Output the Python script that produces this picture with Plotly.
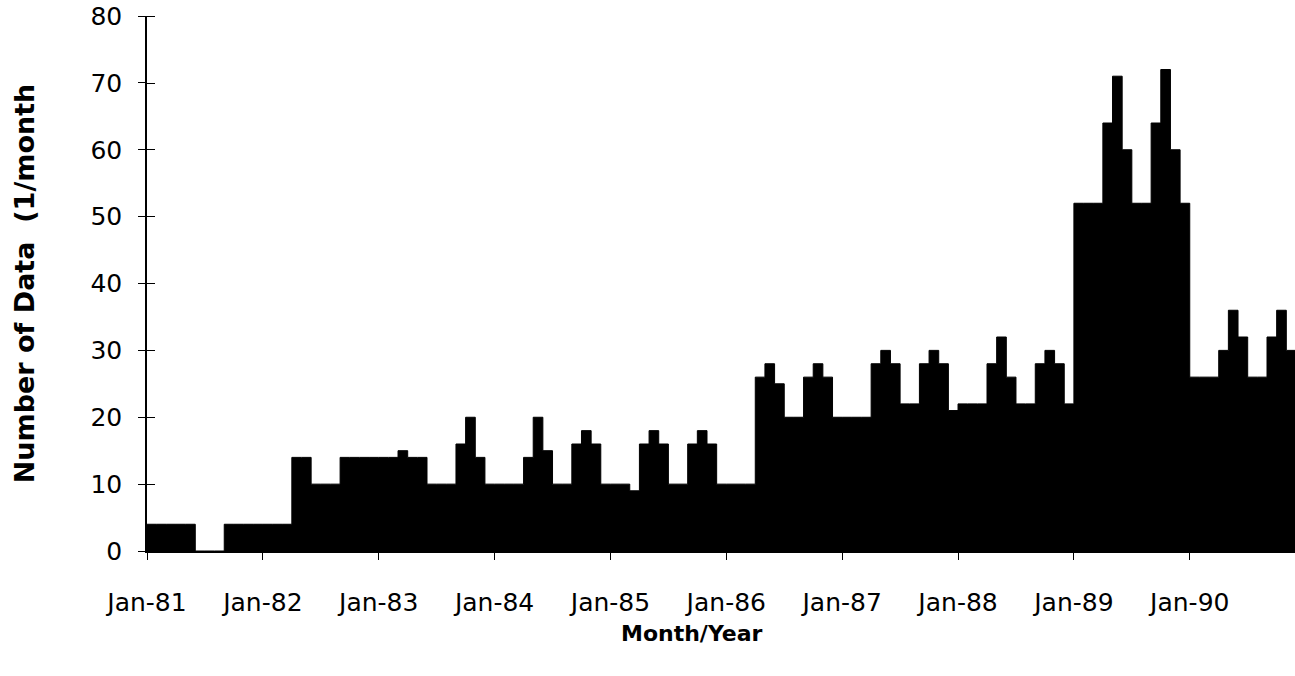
import plotly.graph_objects as go

# Monthly number of data, Jan-81 ... Nov-90
counts_1981 = [4, 4, 4, 4, 4, 0, 0, 0, 4, 4, 4, 4]
counts_1982 = [4, 4, 4, 14, 14, 10, 10, 10, 14, 14, 14, 14]
counts_1983 = [14, 14, 15, 14, 14, 10, 10, 10, 16, 20, 14, 10]
counts_1984 = [10, 10, 10, 14, 20, 15, 10, 10, 16, 18, 16, 10]
counts_1985 = [10, 10, 9, 16, 18, 16, 10, 10, 16, 18, 16, 10]
counts_1986 = [10, 10, 10, 26, 28, 25, 20, 20, 26, 28, 26, 20]
counts_1987 = [20, 20, 20, 28, 30, 28, 22, 22, 28, 30, 28, 21]
counts_1988 = [22, 22, 22, 28, 32, 26, 22, 22, 28, 30, 28, 22]
counts_1989 = [52, 52, 52, 64, 71, 60, 52, 52, 64, 72, 60, 52]
counts_1990 = [26, 26, 26, 30, 36, 32, 26, 26, 32, 36, 30]

tick_labels = ["Jan-81", "Jan-82", "Jan-83", "Jan-84", "Jan-85",
               "Jan-86", "Jan-87", "Jan-88", "Jan-89", "Jan-90"]

counts = (counts_1981 + counts_1982 + counts_1983 + counts_1984 + counts_1985 +
          counts_1986 + counts_1987 + counts_1988 + counts_1989 + counts_1990)
n = len(counts)
# month start positions; one extra edge closes the last month's step
month_edges = list(range(n + 1))
step_values = counts + [counts[-1]]
tick_positions = [12 * i for i in range(len(tick_labels))]

FONT = "DejaVu Sans"

fig = go.Figure()
# monthly histogram drawn as a filled step outline (no seams between months)
fig.add_trace(go.Scatter(
    x=month_edges, y=step_values, mode="lines", line_shape="hv",
    line=dict(color="black", width=1), fill="tozeroy", fillcolor="black",
    showlegend=False, hoverinfo="x+y",
))

fig.update_layout(
    width=1295, height=676,
    margin=dict(l=147, r=0, t=16, b=125),
    paper_bgcolor="white", plot_bgcolor="white",
    font=dict(family=FONT, color="black", size=24),
    xaxis=dict(
        range=[0, 118.9], tickmode="array", tickvals=tick_positions,
        ticktext=tick_labels, ticks="outside", ticklen=7, tickwidth=1.2,
        tickcolor="black", showline=True, linecolor="black", linewidth=1.5,
        showgrid=False, zeroline=False, ticklabelstandoff=21, automargin=False,
        tickfont=dict(family=FONT, size=25, color="black"),
    ),
    yaxis=dict(
        range=[0, 80], dtick=10, ticks="outside", ticklen=7, tickwidth=1.2,
        tickcolor="black", showline=True, linecolor="black", linewidth=1.5,
        showgrid=False, zeroline=False, ticklabelstandoff=11, automargin=False,
        ticklabeloverflow="allow",
        tickfont=dict(family=FONT, size=25, color="black"),
        # inner half of the crossing tick marks
        minor=dict(ticks="inside", ticklen=8, tickwidth=1.2, tickcolor="black",
                   tickmode="linear", tick0=-0.02, dtick=10, showgrid=False),
        title=dict(text="<b>Number of Data\u00a0\u00a0(1/month</b>",
                   font=dict(family=FONT, size=27, color="black"), standoff=48),
    ),
    annotations=[dict(
        text="<b>Month/Year</b>", xref="paper", yref="paper",
        x=0.475, y=-0.155, xanchor="center", yanchor="middle", showarrow=False,
        font=dict(family=FONT, size=22, color="black"),
    )],
)

# remove the page's default body margin so the figure fills the window exactly
fig.write_html("out.html",
               config={"displayModeBar": False},
               post_script="document.body.style.margin='0';document.body.style.overflow='hidden';")
